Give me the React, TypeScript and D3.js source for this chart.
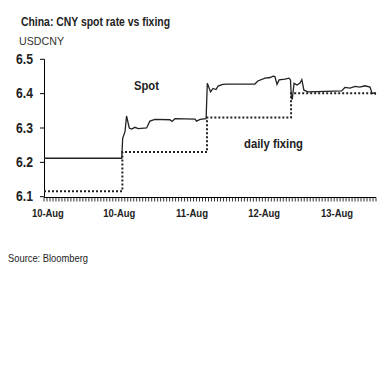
import React from "react";
import * as d3 from "d3";

const TITLE = "China: CNY spot rate vs fixing";
const UNIT = "USDCNY";
const SOURCE = "Source: Bloomberg";

const yTicks = [6.1, 6.2, 6.3, 6.4, 6.5];
const xLabels = ["10-Aug", "10-Aug", "11-Aug", "12-Aug", "13-Aug"];
const xLabelPos = [1.3, 25.2, 49.5, 73.6, 98.0];

// spot: [hour index, rate]
const spotHours = [0, 26.0, 26.3, 27.1, 27.6, 28.5, 29.3, 30.4, 31.5, 34.3, 35.4, 37.1, 42.1, 42.8, 43.8, 50.5, 51.0, 52.2, 54.2, 54.6, 55.7, 56.5, 57.5, 58.2, 59.8, 61.2, 70.5, 71.5, 73.9, 75.6, 76.6, 77.2, 77.9, 78.6, 80.6, 81.9, 82.4, 82.7, 83.0, 83.6, 84.6, 85.6, 86.2, 86.9, 88.3, 99.5, 100.6, 102.3, 104.0, 105.6, 107.3, 109.0, 109.7, 110.3, 111];
const spotRates = [6.212, 6.212, 6.27, 6.29, 6.335, 6.3, 6.297, 6.302, 6.298, 6.3, 6.32, 6.325, 6.324, 6.319, 6.327, 6.326, 6.32, 6.325, 6.327, 6.43, 6.405, 6.415, 6.412, 6.422, 6.427, 6.428, 6.428, 6.437, 6.445, 6.447, 6.451, 6.45, 6.427, 6.44, 6.442, 6.445, 6.44, 6.39, 6.383, 6.43, 6.425, 6.431, 6.441, 6.41, 6.405, 6.408, 6.418, 6.416, 6.421, 6.419, 6.423, 6.419, 6.4, 6.402, 6.398];

// daily fixing steps
const fixStart = [0, 26.2, 54.5, 82.6];
const fixRates = [6.1162, 6.2298, 6.3306, 6.401];
const xEnd = 111;

const FONT = "'Liberation Sans', Arial, sans-serif";

export default function App() {
  const x = d3.scaleLinear().domain([0, xEnd]).range([44, 376]);
  const y = d3.scaleLinear().domain([6.1, 6.5]).range([196.7, 59.3]);

  const spotLine = d3
    .line<number>()
    .x((_, i) => x(spotHours[i]))
    .y((d) => y(d));

  const fixPts: [number, number][] = [];
  fixRates.forEach((r, i) => {
    const end = i < fixStart.length - 1 ? fixStart[i + 1] : xEnd;
    fixPts.push([fixStart[i], r]);
    fixPts.push([end, r]);
  });
  const fixLine = d3
    .line<[number, number]>()
    .x((d) => x(d[0]))
    .y((d) => y(d[1]));

  const minorTicks = d3.range(0, xEnd + 0.01, 1);

  return (
    <svg
      width={391}
      height={382}
      style={{ position: "absolute", left: 0, top: 0, background: "#fff" }}
    >
      <text x={21} y={26} fontFamily={FONT} fontWeight="bold" fontSize={12.5} fill="#222"
        textLength={149} lengthAdjust="spacingAndGlyphs">
        {TITLE}
      </text>
      <text x={19} y={45} fontFamily={FONT} fontSize={11.5} fill="#333"
        textLength={45} lengthAdjust="spacingAndGlyphs">
        {UNIT}
      </text>

      {/* y axis */}
      <line x1={44.5} x2={44.5} y1={y(6.5)} y2={y(6.1)} stroke="#000" strokeWidth={1} />
      {yTicks.map((t) => (
        <g key={t}>
          <line x1={40} x2={44.5} y1={y(t)} y2={y(t)} stroke="#000" />
          <text
            x={16}
            y={y(t) + 4.5}
            fontFamily={FONT}
            fontWeight="bold"
            fontSize={14}
            fill="#222"
            textLength={17}
            lengthAdjust="spacingAndGlyphs"
          >
            {d3.format(".1f")(t)}
          </text>
        </g>
      ))}

      {/* x axis */}
      <line x1={44} x2={376} y1={197.5} y2={197.5} stroke="#000" />
      {minorTicks.map((t) => (
        <line key={t} x1={x(t)} x2={x(t)} y1={197.5} y2={201.5} stroke="#000" strokeWidth={0.8} />
      ))}
      {xLabels.map((l, i) => (
        <text
          key={i}
          x={x(xLabelPos[i]) - 16}
          y={216.5}
          fontFamily={FONT}
          fontWeight="bold"
          fontSize={11}
          fill="#222"
          textLength={32}
          lengthAdjust="spacingAndGlyphs"
        >
          {l}
        </text>
      ))}

      {/* fixing */}
      <path d={fixLine(fixPts) || ""} fill="none" stroke="#222" strokeWidth={2} strokeDasharray="2,2" />
      {/* spot */}
      <path d={spotLine(spotRates) || ""} fill="none" stroke="#222" strokeWidth={1.3} />

      <text x={134} y={90} fontFamily={FONT} fontWeight="bold" fontSize={12.5} fill="#222"
        textLength={25} lengthAdjust="spacingAndGlyphs">
        Spot
      </text>
      <text x={244} y={148} fontFamily={FONT} fontWeight="bold" fontSize={12.5} fill="#222"
        textLength={59} lengthAdjust="spacingAndGlyphs">
        daily fixing
      </text>

      <text x={8} y={262} fontFamily={FONT} fontSize={11} fill="#222"
        textLength={80} lengthAdjust="spacingAndGlyphs">
        {SOURCE}
      </text>
    </svg>
  );
}
